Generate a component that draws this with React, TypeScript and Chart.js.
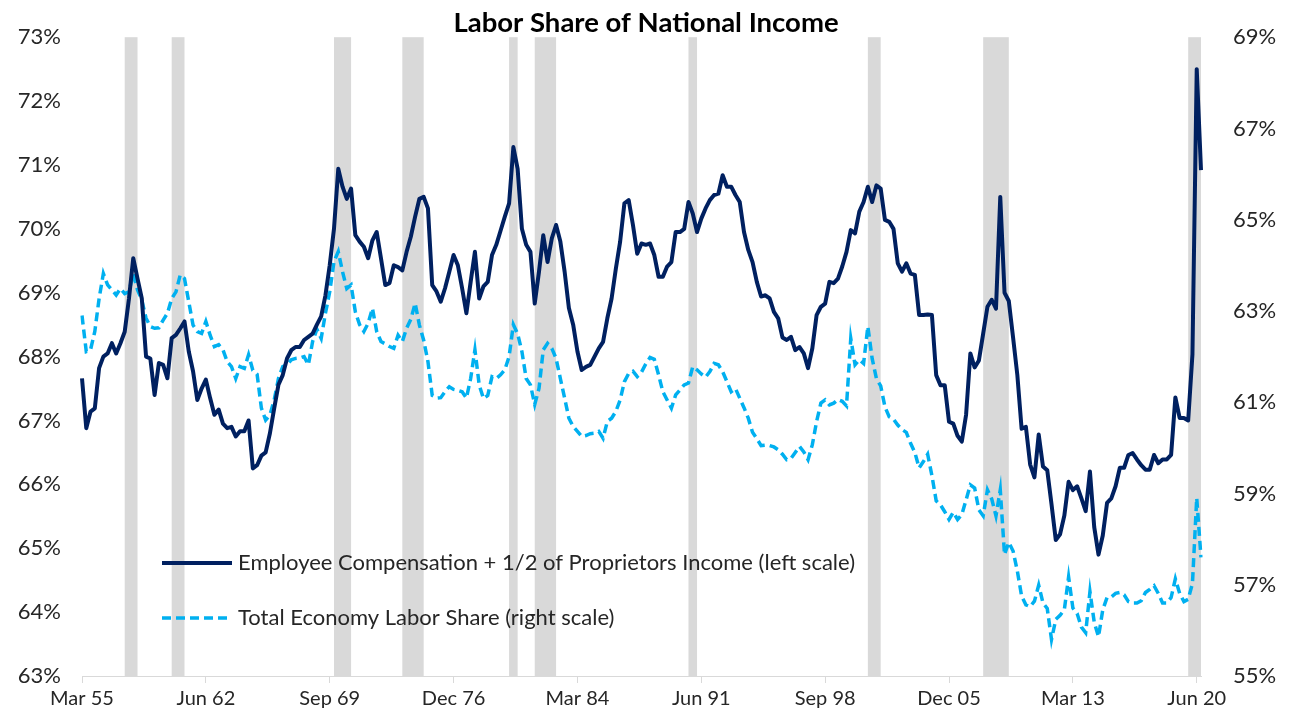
import React, { useEffect, useRef } from 'react';
import { Chart, registerables } from 'chart.js';

Chart.register(...registerables);

// ---- Data ----
const quarterMonths = ['Mar', 'Jun', 'Sep', 'Dec'];
const firstYear = 1955;
const quarterCount = 263; // Mar 55 .. Sep 20
const quarterLabels: string[] = Array.from({ length: quarterCount }, (_, i) =>
  `${quarterMonths[i % 4]} ${String((firstYear + Math.floor(i / 4)) % 100).padStart(2, '0')}`
);

const tickLabels = ['Mar 55', 'Jun 62', 'Sep 69', 'Dec 76', 'Mar 84', 'Jun 91', 'Sep 98', 'Dec 05', 'Mar 13', 'Jun 20'];

const recessionStart = ['Sep 57', 'Jun 60', 'Dec 69', 'Dec 73', 'Mar 80', 'Sep 81', 'Sep 90', 'Mar 01', 'Dec 07', 'Dec 19'];
const recessionEnd = ['Jun 58', 'Mar 61', 'Dec 70', 'Mar 75', 'Sep 80', 'Dec 82', 'Mar 91', 'Dec 01', 'Jun 09', 'Sep 20'];

// Employee Compensation + 1/2 of Proprietors Income (left scale, %)
const compensationShare = [
  67.66, 66.88, 67.14, 67.19, 67.82, 68.0, 68.05, 68.21, 68.05, 68.21,
  68.39, 68.91, 69.54, 69.22, 68.91, 68.0, 67.97, 67.40, 67.90, 67.87,
  67.66, 68.29, 68.34, 68.44, 68.55, 68.08, 67.77, 67.32, 67.5, 67.64,
  67.35, 67.09, 67.17, 66.95, 66.88, 66.9, 66.75, 66.83, 66.83, 67.0,
  66.25, 66.3, 66.45, 66.5, 66.8, 67.19, 67.56, 67.71, 67.97, 68.1,
  68.15, 68.15, 68.26, 68.31, 68.36, 68.5, 68.63, 68.96, 69.43, 70.0,
  70.94, 70.66, 70.47, 70.63, 69.9, 69.8, 69.72, 69.54, 69.82, 69.95,
  69.54, 69.12, 69.15, 69.43, 69.4, 69.35, 69.64, 69.88, 70.19, 70.47,
  70.5, 70.32, 69.12, 69.02, 68.86, 69.07, 69.33, 69.59, 69.43, 69.07,
  68.68, 69.17, 69.64, 68.91, 69.1, 69.17, 69.59, 69.75, 69.97, 70.19,
  70.4, 71.28, 70.94, 70.0, 69.75, 69.64, 68.83, 69.33, 69.9, 69.48,
  69.85, 70.06, 69.8, 69.33, 68.76, 68.5, 68.08, 67.79, 67.84, 67.87,
  68.0, 68.13, 68.23, 68.6, 68.91, 69.38, 69.8, 70.4, 70.45, 70.06,
  69.61, 69.77, 69.75, 69.77, 69.59, 69.25, 69.25, 69.41, 69.48, 69.95,
  69.95, 70.0, 70.42, 70.24, 69.95, 70.16, 70.32, 70.45, 70.53, 70.55,
  70.84, 70.66, 70.66, 70.53, 70.42, 69.95, 69.67, 69.48, 69.17, 68.94,
  68.96, 68.91, 68.7, 68.6, 68.3, 68.26, 68.31, 68.1, 68.15, 68.05,
  67.82, 68.13, 68.65, 68.78, 68.83, 69.17, 69.15, 69.22, 69.41, 69.64,
  69.98, 69.93, 70.27, 70.42, 70.66, 70.42, 70.68, 70.63, 70.14, 70.11,
  70.0, 69.46, 69.33, 69.46, 69.3, 69.28, 68.65, 68.65, 68.66, 68.65,
  67.71, 67.55, 67.55, 66.98, 66.95, 66.76, 66.67, 67.09, 68.05, 67.83,
  67.94, 68.36, 68.78, 68.89, 68.75, 70.5, 69.0, 68.87, 68.3, 67.71,
  66.87, 66.9, 66.31, 66.11, 66.78, 66.28, 66.22, 65.69, 65.13, 65.22,
  65.51, 66.04, 65.91, 65.97, 65.78, 65.58, 66.2, 65.33, 64.9, 65.2,
  65.71, 65.78, 65.97, 66.26, 66.26, 66.46, 66.49, 66.39, 66.3, 66.23,
  66.23, 66.46, 66.33, 66.39, 66.39, 66.46, 67.36, 67.04, 67.04, 67.0,
  68.04, 72.5, 70.92,
];

// Total Economy Labor Share (right scale, %)
const totalEconomyShare = [
  62.9, 62.11, 62.15, 62.55, 63.27, 63.82, 63.57, 63.46, 63.35, 63.49,
  63.38, 63.42, 63.82, 63.46, 63.24, 62.84, 62.66, 62.62, 62.63, 62.8,
  62.95, 63.27, 63.42, 63.79, 63.71, 63.2, 62.69, 62.55, 62.51, 62.77,
  62.47, 62.22, 62.26, 62.15, 61.89, 61.78, 61.52, 61.78, 61.74, 62.04,
  61.7, 61.61, 60.87, 60.61, 60.72, 61.05, 61.52, 61.78, 61.82, 61.93,
  61.96, 61.97, 62.0, 61.82, 62.33, 62.6, 62.4, 62.95, 63.42, 64.08,
  64.3, 63.86, 63.49, 63.57, 62.98, 62.7, 62.55, 62.73, 63.06, 62.55,
  62.33, 62.28, 62.22, 62.18, 62.47, 62.33, 62.62, 62.82, 63.17, 62.69,
  62.36, 61.89, 61.15, 61.09, 61.1, 61.23, 61.34, 61.28, 61.26, 61.23,
  61.09, 61.52, 62.15, 61.38, 61.08, 61.15, 61.56, 61.52, 61.6, 61.71,
  62.0, 62.7, 62.5, 62.11, 61.52, 61.38, 60.95, 61.3, 62.15, 62.29,
  62.18, 61.96, 61.52, 61.09, 60.65, 60.47, 60.36, 60.25, 60.27, 60.31,
  60.32, 60.36, 60.21, 60.58, 60.65, 60.8, 61.05, 61.45, 61.63, 61.68,
  61.56, 61.66, 61.84, 61.98, 61.94, 61.6, 61.23, 61.05, 60.87, 61.16,
  61.27, 61.38, 61.42, 61.78, 61.71, 61.62, 61.55, 61.67, 61.85, 61.82,
  61.67, 61.45, 61.23, 61.3, 61.09, 60.88, 60.65, 60.34, 60.2, 60.05,
  60.06, 60.05, 60.02, 59.96, 59.86, 59.74, 59.77, 59.9, 60.03, 59.91,
  59.74, 60.07, 60.58, 60.98, 61.05, 60.94, 60.98, 61.06, 61.02, 60.92,
  62.4, 61.82, 61.93, 61.85, 62.66, 61.96, 61.52, 61.36, 60.9, 60.68,
  60.63, 60.5, 60.4, 60.34, 60.1, 59.9, 59.56, 59.7, 59.86, 59.39,
  58.84, 58.75, 58.6, 58.43, 58.59, 58.43, 58.54, 58.86, 59.19, 59.12,
  58.64, 58.51, 59.08, 58.88, 58.51, 59.08, 57.66, 57.93, 57.74, 57.3,
  56.75, 56.56, 56.52, 56.64, 56.99, 56.6, 56.48, 55.8, 56.24, 56.33,
  56.45, 57.17, 56.49, 56.37, 56.07, 55.95, 56.85, 56.18, 55.86, 56.45,
  56.72, 56.73, 56.81, 56.83, 56.78, 56.63, 56.6, 56.6, 56.65, 56.83,
  56.9, 56.98, 56.81, 56.6, 56.6, 56.72, 57.13, 56.81, 56.63, 56.68,
  57.03, 58.9, 57.6,
];

const seriesNames = [
  'Employee Compensation + 1/2 of Proprietors Income (left scale)',
  'Total Economy Labor Share (right scale)',
];
const titleText = 'Labor Share of National Income';

const DARK = '#002060';
const LIGHT = '#00B0F0';
const SHADE = '#D9D9D9';
const TEXT = '#262626';
const FONT = 'Lato, "Open Sans", sans-serif';

const recessionPlugin = {
  id: 'recessionShading',
  beforeDatasetsDraw(chart: any) {
    const { ctx, chartArea, scales } = chart;
    const x = scales.x;
    ctx.save();
    ctx.fillStyle = SHADE;
    recessionStart.forEach((s, i) => {
      const a = x.getPixelForValue(quarterLabels.indexOf(s));
      const b = x.getPixelForValue(quarterLabels.indexOf(recessionEnd[i]));
      ctx.fillRect(a, chartArea.top, b - a, chartArea.bottom - chartArea.top);
    });
    ctx.restore();
  },
};

const legendPlugin = {
  id: 'insideLegend',
  afterDraw(chart: any) {
    const { ctx } = chart;
    const rows = [
      { y: 563, color: DARK, dash: [] as number[], width: 4, text: seriesNames[0] },
      { y: 618, color: LIGHT, dash: [9, 5], width: 3.5, text: seriesNames[1] },
    ];
    ctx.save();
    rows.forEach((r) => {
      ctx.beginPath();
      ctx.setLineDash(r.dash);
      ctx.strokeStyle = r.color;
      ctx.lineWidth = r.width;
      ctx.moveTo(162, r.y);
      ctx.lineTo(232, r.y);
      ctx.stroke();
      ctx.setLineDash([]);
      ctx.fillStyle = TEXT;
      ctx.font = `22px ${FONT}`;
      ctx.textBaseline = 'middle';
      ctx.textAlign = 'left';
      ctx.fillText(r.text, 238, r.y);
    });
    ctx.restore();
  },
};

export default function App() {
  const canvasRef = useRef<HTMLCanvasElement | null>(null);

  useEffect(() => {
    if (!canvasRef.current) return;
    const chart = new Chart(canvasRef.current, {
      type: 'line',
      data: {
        labels: quarterLabels,
        datasets: [
          {
            label: seriesNames[0],
            data: compensationShare,
            borderColor: DARK,
            backgroundColor: DARK,
            borderWidth: 4,
            pointRadius: 0,
            tension: 0,
            yAxisID: 'yLeft',
            borderJoinStyle: 'round',
          },
          {
            label: seriesNames[1],
            data: totalEconomyShare,
            borderColor: LIGHT,
            backgroundColor: LIGHT,
            borderWidth: 3.5,
            borderDash: [9, 5],
            pointRadius: 0,
            tension: 0,
            yAxisID: 'yRight',
          },
        ],
      },
      options: {
        responsive: false,
        animation: false,
        layout: { padding: { left: 0, right: 0, top: 0, bottom: 0 } },
        plugins: {
          legend: { display: false },
          tooltip: { enabled: false },
          title: {
            display: true,
            text: titleText,
            color: '#000000',
            font: { family: FONT, size: 27.5, weight: 'bold', lineHeight: 1.0 },
            padding: { top: 7.5, bottom: 0 },
          },
        },
        scales: {
          x: {
            type: 'category',
            offset: false,
            grid: {
              display: true,
              drawOnChartArea: false,
              drawTicks: true,
              tickLength: 7,
              color: '#D9D9D9',
            },
            border: { display: true, color: '#D9D9D9', width: 1 },
            ticks: {
              autoSkip: false,
              maxRotation: 0,
              minRotation: 0,
              padding: 4,
              color: TEXT,
              font: { family: FONT, size: 20 },
              callback: (_v: any, idx: number) =>
                tickLabels.includes(quarterLabels[idx]) ? quarterLabels[idx] : null,
            },
            afterFit: (scale: any) => {
              scale.height = 42;
            },
          },
          yLeft: {
            type: 'linear',
            position: 'left',
            min: 63,
            max: 73,
            grid: { display: false },
            border: { display: false },
            ticks: {
              stepSize: 1,
              padding: 13,
              color: TEXT,
              font: { family: FONT, size: 22 },
              callback: (v: any) => `${v}%`,
            },
            afterFit: (scale: any) => {
              scale.width = 82;
            },
          },
          yRight: {
            type: 'linear',
            position: 'right',
            min: 55,
            max: 69,
            grid: { display: false },
            border: { display: false },
            ticks: {
              stepSize: 2,
              padding: 24,
              color: TEXT,
              font: { family: FONT, size: 22 },
              callback: (v: any) => `${v}%`,
            },
            afterFit: (scale: any) => {
              scale.width = 91;
            },
          },
        },
      },
      plugins: [recessionPlugin, legendPlugin],
    });
    return () => chart.destroy();
  }, []);

  return (
    <div style={{ position: 'fixed', left: 0, top: 0, width: 1292, height: 718, background: '#ffffff' }}>
      <canvas ref={canvasRef} width={1292} height={718} style={{ width: 1292, height: 718 }} />
    </div>
  );
}
